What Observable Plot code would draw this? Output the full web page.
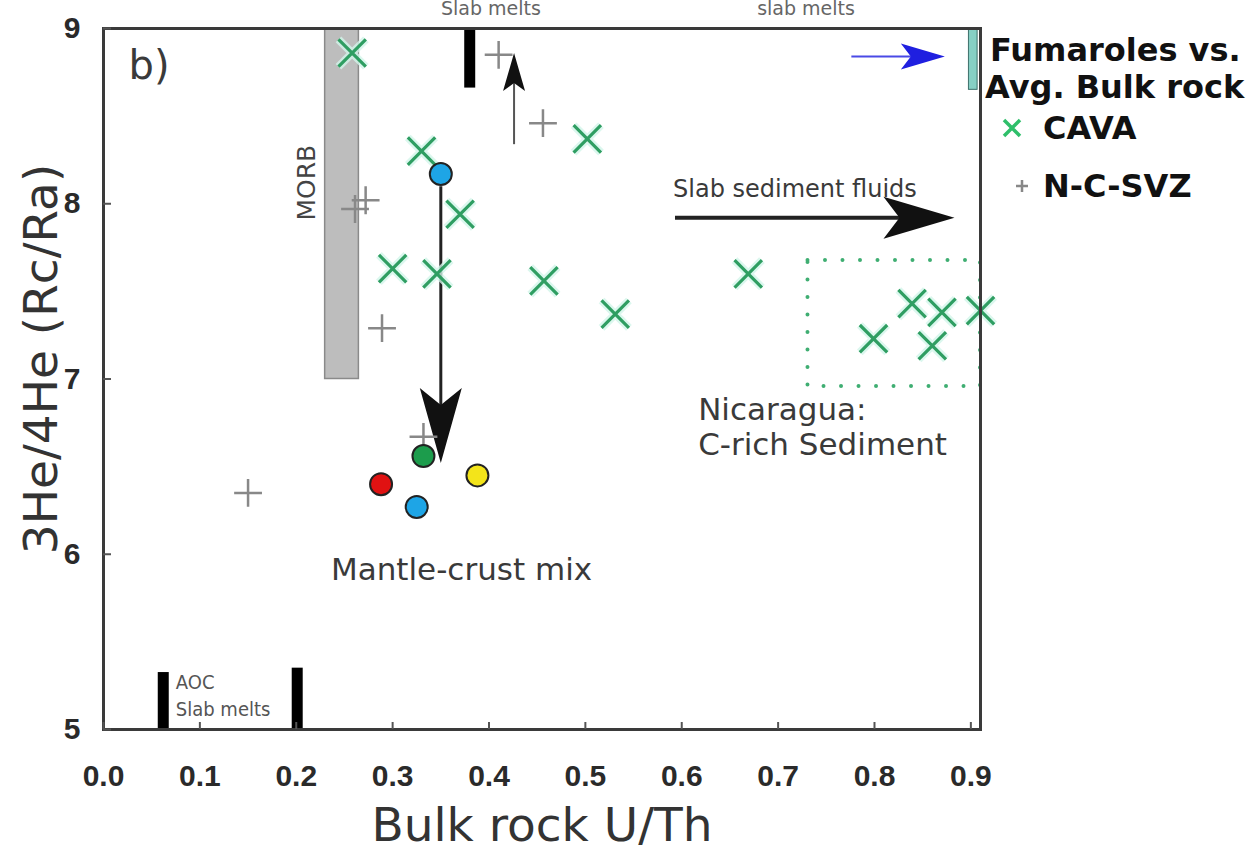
<!DOCTYPE html>
<html><head><meta charset="utf-8">
<script src="https://cdn.jsdelivr.net/npm/d3@7"></script>
<script src="https://cdn.jsdelivr.net/npm/@observablehq/plot@0.6"></script>
<style>
body{margin:0;background:#fff;}
#wrap{position:relative;width:1246px;height:849px;overflow:hidden;background:#fff;}
.lg{position:absolute;font-family:"DejaVu Sans",sans-serif;font-weight:bold;font-size:32px;line-height:32px;color:#111;white-space:nowrap;}
.lgsym{position:absolute;}
</style></head><body><div id="wrap"></div>
<script>
// ---- data ----
const cavaX = [0.258, 0.330, 0.502, 0.370, 0.300, 0.346, 0.457, 0.531, 0.669, 0.799, 0.839, 0.870, 0.910, 0.860];
const cavaY = [8.86, 8.30, 8.37, 7.94, 7.63, 7.60, 7.56, 7.37, 7.60, 7.23, 7.43, 7.38, 7.39, 7.19];
const svzX = [0.410, 0.456, 0.261, 0.272, 0.289, 0.150, 0.332];
const svzY = [8.85, 8.46, 7.97, 8.02, 7.29, 6.35, 6.67];
const fumX = [0.350, 0.332, 0.288, 0.325, 0.388];
const fumY = [8.17, 6.56, 6.40, 6.27, 6.45];
const fumColor = ["#1ea5e6", "#1c9c4c", "#e01212", "#1ea5e6", "#f3e41a"];
const xTicks = [0, 0.1, 0.2, 0.3, 0.4, 0.5, 0.6, 0.7, 0.8, 0.9];
const yTicks = [5, 6, 7, 8, 9];
// fields
const morbX = [0.230, 0.265];
const morbY = [7.0, 9.0];
const nicX = [0.731, 0.910];
const nicY = [6.957, 7.676];
const meltBarX = [0.062, 0.201, 0.380];
const meltBarY1 = [5.0, 5.0, 8.66];
const meltBarY2 = [5.325, 5.35, 9.0];
const fumBarX = [0.898, 0.907];
const fumBarY = [8.65, 9.0];
// arrows: mantle-crust, slab fluids, slab melt, fumaroles
const arrowX1 = [0.350, 0.593, 0.426, 0.776];
const arrowY1 = [8.10, 7.92, 8.34, 8.84];
const arrowX2 = [0.350, 0.883, 0.426, 0.873];
const arrowY2 = [6.52, 7.92, 8.86, 8.84];
// labels
const noteText = ["b)", "Slab sediment fluids", "Nicaragua:\nC-rich Sediment", "Mantle-crust mix"];
const noteX = [0.026, 0.591, 0.617, 0.236];
const noteY = [8.80, 8.09, 6.732, 5.92];
const topLabel = ["Slab melts", "slab melts"];
const topLabelX = [0.402, 0.729];

const head = (L, W, n) => ({draw(ctx) {
  ctx.moveTo(0, 0); ctx.lineTo(-L, -W); ctx.lineTo(-L + n, 0); ctx.lineTo(-L, W); ctx.closePath();
}});
const headSpec = [
  {sym: head(75, 21, 17), rot: 90, fill: "#111", stroke: "#222", w: 3, inset: 40},
  {sym: head(71, 21, 16), rot: 0, fill: "#111", stroke: "#222", w: 4, inset: 40},
  {sym: head(38, 11, 8), rot: -90, fill: "#111", stroke: "#555", w: 2, inset: 20},
  {sym: head(44, 13, 10), rot: 0, fill: "#1f1fe0", stroke: "#4a4ae6", w: 2, inset: 22}
];

const annFont = "DejaVu Sans";
const tickFont = "Liberation Sans";
const idx = (a) => a.map((_, i) => i);

const marks = [];
// MORB field
marks.push(Plot.rect([0], {x1: () => morbX[0], x2: () => morbX[1], y1: () => morbY[0], y2: () => morbY[1],
  fill: "#bdbdbd", stroke: "#8a8a8a", strokeWidth: 1.5}));
// Nicaragua dotted box
marks.push(Plot.rect([0], {x1: () => nicX[0], x2: () => nicX[1], y1: () => nicY[0], y2: () => nicY[1],
  fill: "none", stroke: "#3fae72", strokeWidth: 4, strokeDasharray: "0 17.5", strokeLinecap: "round"}));
// slab melt bars
marks.push(Plot.ruleX(idx(meltBarX), {x: i => meltBarX[i], y1: i => meltBarY1[i], y2: i => meltBarY2[i],
  stroke: "#000", strokeWidth: 11}));
// fumarole bar
marks.push(Plot.rect([0], {x1: () => fumBarX[0], x2: () => fumBarX[1], y1: () => fumBarY[0], y2: () => fumBarY[1],
  fill: "#86cfc4", stroke: "#3c6f6a", strokeWidth: 1}));
// arrows
headSpec.forEach((h, i) => {
  marks.push(Plot.arrow([i], {x1: j => arrowX1[j], y1: j => arrowY1[j], x2: j => arrowX2[j], y2: j => arrowY2[j],
    stroke: h.stroke, strokeWidth: h.w, headLength: 0, insetEnd: h.inset, strokeLinecap: "butt"}));
  marks.push(Plot.dot([i], {x: j => arrowX2[j], y: j => arrowY2[j], symbol: h.sym, rotate: h.rot,
    fill: h.fill, stroke: "none", r: 5}));
});
// N-C-SVZ plus
marks.push(Plot.dot(idx(svzX), {x: i => svzX[i], y: i => svzY[i], symbol: "plus", r: 9,
  stroke: "#888", strokeWidth: 2.5}));
// CAVA crosses with halo
marks.push(Plot.dot(idx(cavaX), {x: i => cavaX[i], y: i => cavaY[i], symbol: "times", r: 12.5,
  stroke: "#d2f5ea", strokeWidth: 8, strokeOpacity: 0.8}));
marks.push(Plot.dot(idx(cavaX), {x: i => cavaX[i], y: i => cavaY[i], symbol: "times", r: 12.5,
  stroke: "#2f9e62", strokeWidth: 3.2}));
// fumarole circles
marks.push(Plot.dot(idx(fumX), {x: i => fumX[i], y: i => fumY[i], r: 11,
  fill: i => fumColor[i], stroke: "#222", strokeWidth: 2}));
// annotations
const noteSize = [40, 24, 31, 31];
const noteLH = [1.2, 1.2, 1.13, 1.2];
noteText.forEach((t, i) => {
  marks.push(Plot.text([i], {x: j => noteX[j], y: j => noteY[j], text: j => noteText[j], textAnchor: "start",
    lineAnchor: "middle", fontSize: noteSize[i], fontFamily: annFont, fill: "#3a3a3a", lineHeight: noteLH[i]}));
});
marks.push(Plot.text(["MORB"], {x: () => 0.211, y: () => 8.12, text: d => d, rotate: -90,
  fontSize: 25, fontFamily: annFont, fill: "#444"}));
marks.push(Plot.text(["AOC\nSlab melts"], {x: () => 0.075, y: () => 5.205, text: d => d, textAnchor: "start",
  lineAnchor: "middle", fontSize: 20, fontFamily: "DejaVu Sans Condensed, DejaVu Sans", fill: "#555", lineHeight: 1.35}));
marks.push(Plot.text(idx(topLabel), {x: i => topLabelX[i], y: () => 9, text: i => topLabel[i], dy: -20,
  fontSize: 19, fontFamily: annFont, fill: "#666"}));
// frame and axes
marks.push(Plot.frame({stroke: "#3a3a3a", strokeWidth: 3}));
marks.push(Plot.axisX({ticks: xTicks, tickFormat: d3.format(".1f"), tickSize: -7, tickPadding: 42,
  fontSize: 30, fontWeight: "bold", fontFamily: tickFont, stroke: "#555", strokeWidth: 2, fill: "#2a2a2a"}));
marks.push(Plot.axisY({ticks: yTicks, tickFormat: d3.format("d"), tickSize: -8, tickPadding: 31,
  fontSize: 30, fontWeight: "bold", fontFamily: tickFont, stroke: "#555", strokeWidth: 2, fill: "#2a2a2a"}));
marks.push(Plot.text(["Bulk rock U/Th"], {frameAnchor: "bottom", text: d => d, dy: 111,
  fontSize: 47, fontFamily: annFont, fill: "#333"}));
marks.push(Plot.text(["3He/4He (Rc/Ra)"], {frameAnchor: "left", textAnchor: "middle", text: d => d, dx: -62, dy: -20, rotate: -90,
  fontSize: 47, fontFamily: annFont, fill: "#333"}));

const chart = Plot.plot({
  width: 1246, height: 849,
  marginLeft: 103, marginRight: 266, marginTop: 28, marginBottom: 120,
  x: {domain: [0, 0.91], label: null},
  y: {domain: [5, 9], label: null},
  style: {background: "white", overflow: "visible"},
  marks
});
const wrap = document.getElementById("wrap");
wrap.appendChild(chart);

// legend (beside the plot)
const lg = [
  {t: "Fumaroles vs.", l: 990, c: 50},
  {t: "Avg. Bulk rock", l: 985, c: 87},
  {t: "CAVA", l: 1043, c: 128},
  {t: "N-C-SVZ", l: 1043, c: 186}
];
lg.forEach(d => {
  const el = document.createElement("div");
  el.className = "lg"; el.textContent = d.t;
  el.style.left = d.l + "px"; el.style.top = (d.c - 16) + "px";
  wrap.appendChild(el);
});
const ns = "http://www.w3.org/2000/svg";
function sym(cx, cy, kind) {
  const s = document.createElementNS(ns, "svg");
  s.setAttribute("width", 24); s.setAttribute("height", 24);
  s.setAttribute("class", "lgsym");
  s.style.left = (cx - 12) + "px"; s.style.top = (cy - 12) + "px";
  const p = document.createElementNS(ns, "path");
  if (kind === "x") { p.setAttribute("d", "M4,4L20,20M4,20L20,4"); p.setAttribute("stroke", "#2fbf6a"); p.setAttribute("stroke-width", 3.5); }
  else { p.setAttribute("d", "M6,12H18M12,6V18"); p.setAttribute("stroke", "#888"); p.setAttribute("stroke-width", 2.5); }
  s.appendChild(p); wrap.appendChild(s);
}
sym(1012, 128, "x");
sym(1022, 186, "+");
</script></body></html>
